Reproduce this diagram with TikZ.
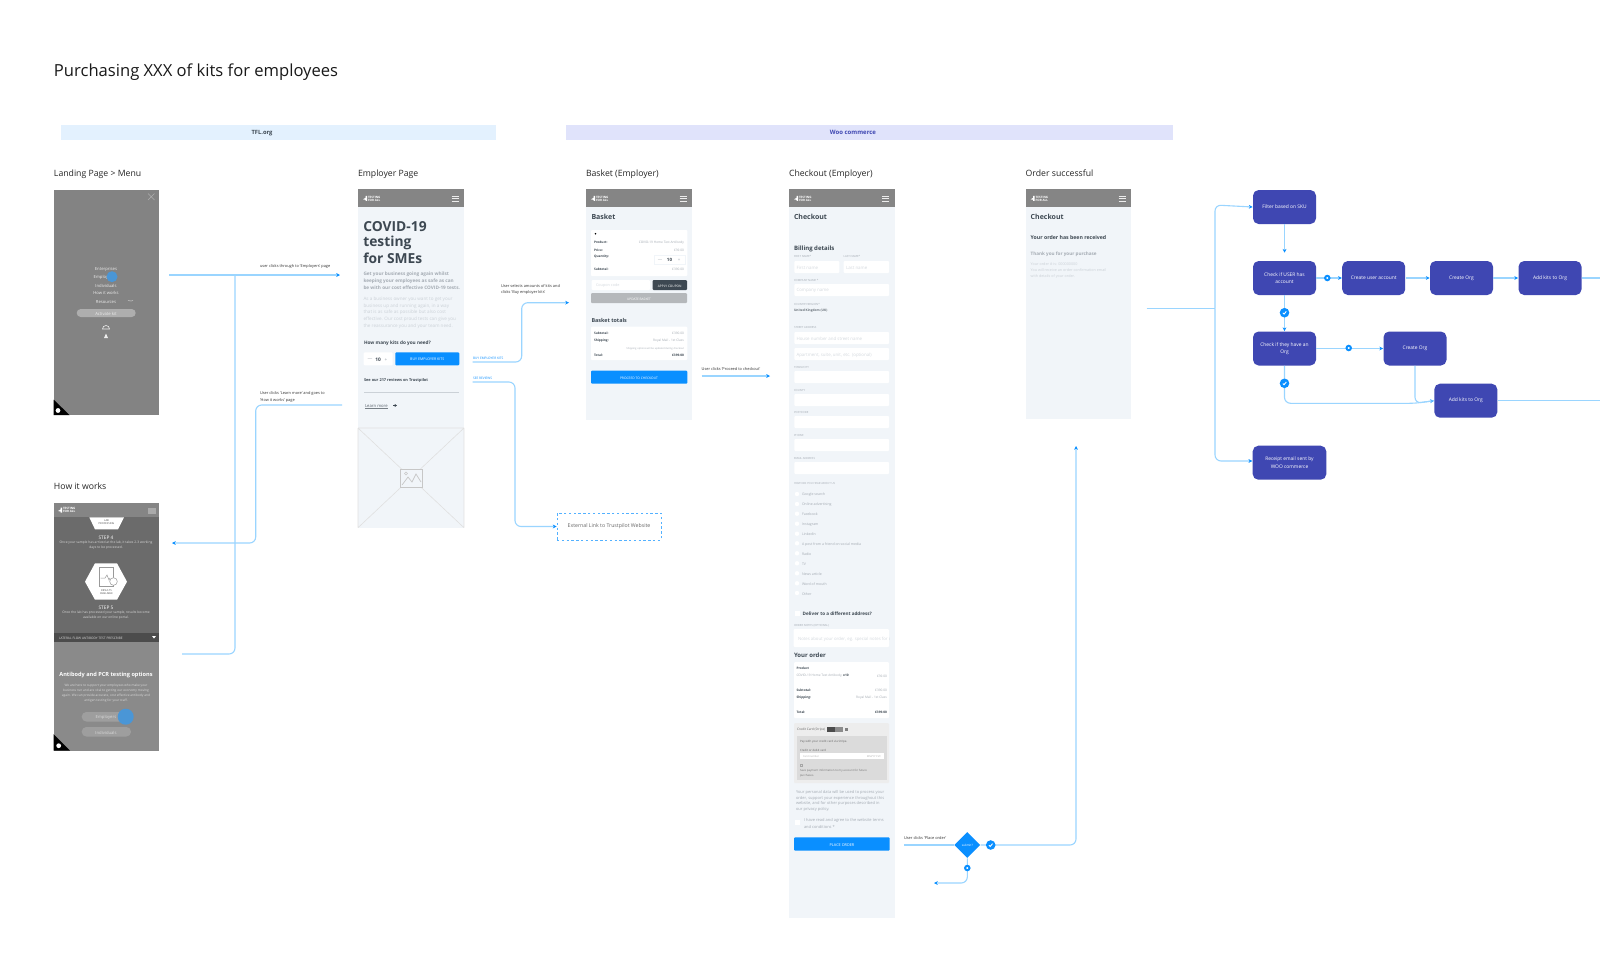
\documentclass[tikz,border=0pt]{standalone}
\usepackage{fontspec}
\setmainfont{Open Sans}
\usetikzlibrary{arrows.meta,shapes.geometric,calc}
\definecolor{lineblue}{HTML}{9AD5FF}
\definecolor{tipblue}{HTML}{0A8FFF}
\definecolor{bandA}{HTML}{E3F1FE}
\definecolor{bandB}{HTML}{E0E3FB}
\definecolor{flowfill}{HTML}{3F47B2}
\definecolor{wirebg}{HTML}{F1F5F9}
\definecolor{wirehead}{HTML}{858585}
\definecolor{inkdark}{HTML}{3D4852}
\definecolor{inkmid}{HTML}{A4ABB3}
\definecolor{inklight}{HTML}{CBD1D7}
\definecolor{fieldink}{HTML}{D5DADF}
\definecolor{landgray}{HTML}{838383}
\definecolor{touch}{HTML}{4A96D6}
\newcommand{\fsz}[1]{\fontsize{#1}{#1}\selectfont}
\newcommand{\oneline}[1]{\raisebox{-.8pt}{#1}}
\newcounter{tn}
\tikzset{
  txt/.style={inner sep=0pt,outer sep=0pt,anchor=west,yshift=-.45pt},
  tc/.style={anchor=center},
  tr/.style={anchor=east},
  sz/.style={font=\fsz{#1}},
  bsz/.style={font=\fsz{#1}\bfseries},
  conn/.style={draw=lineblue,line width=.55pt,rounded corners=3pt},
  arr/.style={-{Stealth[length=1.9pt,width=1.9pt,color=tipblue]}},
  flow/.style={draw=none,fill=flowfill,rounded corners=2.8pt,minimum width=31.5pt,minimum height=17pt,inner sep=1pt,text=white,font=\fontsize{2.45}{3.6}\selectfont,align=center},
  xmk/.style={circle,draw=tipblue,fill=white,line width=1pt,minimum size=2.2pt,inner sep=0pt},
  cmk/.style={circle,fill=tipblue,minimum size=4.8pt,inner sep=0pt},
  fld/.style={fill=white,rounded corners=.5pt},
}
\newcommand{\tx}[3][]{\stepcounter{tn}\node[txt,#1] (t\thetn) at (#2) {#3};}
\newcommand{\burger}[2]{\draw[white!85!wirehead,line width=.3pt] (#1-3.5,#2-2.5)--(#1+3.5,#2-2.5) (#1-3.5,#2)--(#1+3.5,#2) (#1-3.5,#2+2.5)--(#1+3.5,#2+2.5);}
\newcommand{\logomark}[2]{\fill[white] (#1,#2+1)--(#1+2.5,#2-.5)--(#1+2.5,#2-2.5)--(#1+4,#2-2.5)--(#1+4,#2+2.5)--(#1+2.5,#2+2.5)--(#1+2.5,#2+1.5)--cycle;
  \tx[bsz=1.5,text=white]{#1+5,#2-2.2}{TESTING}\tx[bsz=1.5,text=white]{#1+5,#2+.8}{FOR ALL}}
\newcommand{\phead}[3]{\fill[wirehead] (#1,#3) rectangle (#2,#3+18);\logomark{#1+5}{#3+9}\burger{#2-9}{#3+9}}
\newcommand{\chk}[3]{\node[cmk] (#1) at (#2,#3) {};\draw[white,line width=.45pt] (#2-1.7,#3+.2)--(#2-.5,#3+1.4)--(#2+1.8,#3-1.3);}
\begin{document}
\begin{tikzpicture}[x=.5pt,y=-.5pt]
\useasboundingbox (0,0) rectangle (1600,960);
\fill[white] (0,0) rectangle (1600,960);
% title and bands
\tx[sz=8.3,text=black!90]{54,71}{Purchasing XXX of kits for employees}
\fill[bandA] (61,124.5) rectangle (496,140);
\fill[bandB] (566,124.5) rectangle (1172.5,140);
\tx[tc,bsz=2.9,text=inkdark]{262,132}{TFL.org}
\tx[tc,bsz=3,text=flowfill]{853,131}{Woo commerce}
% screen labels
\tx[sz=4.35,text=black!85]{54,173}{Landing Page > Menu}
\tx[sz=4.35,text=black!85]{358,173}{Employer Page}
\tx[sz=4.35,text=black!85]{586,173}{Basket (Employer)}
\tx[sz=4.35,text=black!85]{789,173}{Checkout (Employer)}
\tx[sz=4.35,text=black!85]{1025.7,172}{Order successful}
\tx[sz=4.35,text=black!85]{54,485}{How it works}
% ---------- Landing
\fill[landgray] (53.5,189.5) rectangle (159,415);
\draw[white!35!landgray,line width=.3pt] (148,193.5)--(154.5,200) (154.5,193.5)--(148,200);
\tx[tc,sz=2.1,text=white!85!landgray]{106,268.5}{Enterprises}
\tx[tc,sz=2.1,text=white!85!landgray]{104,276.7}{Employers}
\tx[tc,sz=2.1,text=white!85!landgray]{106,285}{Individuals}
\tx[tc,sz=2.1,text=white!85!landgray]{106,292.5}{How it works}
\tx[tc,sz=2.1,text=white!85!landgray]{106,301}{Resources}
\draw[white!60!landgray,line width=.25pt] (128,300.5)--(131,301)--(133,300.5);
\fill[white!35!landgray,rounded corners=2pt] (76.7,309) rectangle (135.7,317);
\tx[tc,sz=2.1,text=white!85!landgray]{106,313}{Activate kit}
\fill[touch] (112,276.7) circle (5.5);
\draw[white!85!landgray,line width=.3pt] (102.5,329) arc (180:360:3.5)--cycle;
\fill[white!85!landgray] (106,333.5)--(108,338)--(104,338)--cycle;
\fill[black] (53.5,415)--(53.5,399.5)--(69.5,415)--cycle;
\fill[white] (58,410.5) circle (2.4);
% ---------- How it works
\fill[wirehead] (53.5,502.7) rectangle (159,517.3);
\fill[black!58] (53.5,517.3) rectangle (159,632.7);
\fill[black!70] (53.5,632.7) rectangle (159,641.7);
\fill[black!46] (53.5,641.7) rectangle (159,750.7);
\logomark{58}{510}
\fill[white!30!wirehead] (147.5,508) rectangle (156,514);
\fill[white] (89.3,517.3)--(124,517.3)--(118,529.3)--(95,529.3)--cycle;
\tx[tc,sz=1.3,text=black!70]{106.5,520}{LAB}
\tx[tc,sz=1.3,text=black!70]{106.5,523}{PROCESSING}
\tx[tc,sz=2.4,text=white]{106,537}{STEP 4}
\tx[tc,sz=1.65,text=white!85!black]{106,542}{Once your sample has arrived at the lab, it takes 2-3 working}
\tx[tc,sz=1.65,text=white!85!black]{106,547}{days to be processed.}
\fill[white] (85,581.7)--(95,563.3)--(117,563.3)--(127,581.7)--(117,599.7)--(95,599.7)--cycle;
\draw[black!40,line width=.25pt] (99.5,567.5) rectangle (113,586);
\draw[black!40,line width=.25pt] (100.5,578)--(105,578)--(107,575)--(109,580)--(110,578);
\draw[black!40,fill=white,line width=.25pt] (113.5,581.5) circle (3.8);
\tx[tc,sz=1.3,text=black!70]{106.5,590}{RESULTS}
\tx[tc,sz=1.3,text=black!70]{106.5,593}{AVAILABLE}
\tx[tc,sz=2.4,text=white]{106,607}{STEP 5}
\tx[tc,sz=1.65,text=white!85!black]{106,612}{Once the lab has processed your sample, results become}
\tx[tc,sz=1.65,text=white!85!black]{106,617}{available on our online portal.}
\tx[sz=1.6,text=white!85!black]{59,637}{LATERAL FLOW ANTIBODY TEST PRESCRIBE}
\fill[white] (152,636)--(156,636)--(154,638.5)--cycle;
\tx[tc,bsz=2.8,text=white]{106,674.3}{Antibody and PCR testing options}
\tx[tc,sz=1.6,text=white!85!black]{106,685}{We are here to support your employees who make your}
\tx[tc,sz=1.6,text=white!85!black]{106,690}{business run and are vital to getting our economy moving}
\tx[tc,sz=1.6,text=white!85!black]{106,695}{again. We can provide accurate, cost effective antibody and}
\tx[tc,sz=1.6,text=white!85!black]{106,700}{antigen testing for your staff.}
\fill[black!38,rounded corners=2.3pt] (81.7,712) rectangle (131,721.5);
\tx[tc,sz=2.1,text=white!85!black]{106,716.7}{Employers}
\fill[touch] (125.7,716.7) circle (8);
\fill[black!38,rounded corners=2.3pt] (81.7,727) rectangle (131,736.5);
\tx[tc,sz=2.1,text=white!85!black]{106,731.7}{Individuals}
\fill[black] (53.5,750.7)--(53.5,734)--(70,750.7)--cycle;
\fill[white] (58.7,745.7) circle (2.4);
% ---------- Employer
\fill[wirebg] (358,189.3) rectangle (464,527.7);
\phead{358}{464}{189.3}
\tx[bsz=6.9,text=inkdark]{363.3,225.7}{COVID-19}
\tx[bsz=6.9,text=inkdark]{363.3,241.7}{testing}
\tx[bsz=6.9,text=inkdark]{363.3,257.7}{for SMEs}
\tx[bsz=2.35,text=inkmid]{363.5,273.3}{Get your business going again whilst}
\tx[bsz=2.35,text=inkmid]{363.5,280}{keeping your employees as safe as can}
\tx[bsz=2.35,text=inkmid]{363.5,286.7}{be with our cost effective COVID-19 tests.}
\tx[sz=2.3,text=inklight]{363.5,298.7}{As a business owner you want to get your}
\tx[sz=2.3,text=inklight]{363.5,305}{business up and running again, in a way}
\tx[sz=2.3,text=inklight]{363.5,311.7}{that is as safe as possible but also cost}
\tx[sz=2.3,text=inklight]{363.5,318}{effective. Our cost proud tests can give you}
\tx[sz=2.3,text=inklight]{363.5,325}{the reassurance you and your team need.}
\tx[bsz=2.35,text=inkdark]{364,342.7}{How many kits do you need?}
\fill[fld] (363.7,352.3) rectangle (392.7,365.3);
\tx[tc,bsz=2.4,text=inkdark]{378.2,358.8}{10}
\tx[tc,sz=2.4,text=inkmid]{370,358.8}{—}
\tx[tc,sz=2.4,text=inkmid]{386,358.8}{+}
\fill[tipblue,rounded corners=.5pt] (395.3,352.3) rectangle (459.3,365.3);
\tx[tc,sz=1.8,text=white]{427.3,358.8}{BUY EMPLOYER KITS}
\tx[bsz=1.95,text=inkdark]{364,380}{See our 217 reviews on Trustpilot}
\draw[draw=inklight,line width=.2pt] (364,392.3)--(459,392.3);
\tx[sz=2.1,text=inkdark!85]{365,405.3}{Learn more}
\draw[draw=inkdark!70,line width=.12pt] (365,408.6)--(388,408.6);
\draw[draw=inkdark,line width=.25pt,-{Stealth[length=1.2pt,width=1.5pt]}] (393,405.5)--(397,405.5);
\draw[black!12,line width=.3pt] (358,428)--(464,428) (358,428)--(464,527.7) (464,428)--(358,527.7) (358,428)--(358,527.7) (464,428)--(464,527.7);
\fill[wirebg] (400,469) rectangle (422,487);
\draw[black!22,line width=.4pt] (400,469) rectangle (422,487);
\draw[black!22,line width=.35pt] (402,485)--(408,477)--(412,482)--(416,474)--(421,482);
\draw[black!22,line width=.3pt] (406,473.5) circle (1.5);
% ---------- Basket
\fill[wirebg] (586,189.3) rectangle (692,420);
\phead{586}{692}{189.3}
\tx[bsz=3.5,text=inkdark]{591.5,215.7}{Basket}
\fill[fld] (591,230) rectangle (687.3,276);
\fill[black] (595.5,233.7) circle (.9);
\tx[bsz=1.6,text=inkdark]{594,241.7}{Product:}
\tx[bsz=1.6,text=inkdark]{594,249}{Price:}
\tx[bsz=1.6,text=inkdark]{594,256}{Quantity:}
\tx[bsz=1.6,text=inkdark]{594,268.7}{Subtotal:}
\tx[tr,sz=1.6,text=inkmid]{684,241.7}{COVID-19 Home Test Antibody}
\tx[tr,sz=1.6,text=inkmid]{684,249}{£39.00}
\tx[tr,sz=1.6,text=inkmid]{684,268.7}{£390.00}
\draw[fill=white,draw=wirebg,line width=.3pt] (654,255) rectangle (685,264);
\tx[tc,bsz=2.2,text=inkdark]{669.5,259.5}{10}
\tx[tc,sz=2.2,text=inkmid]{660,259.5}{—}
\tx[tc,sz=2.2,text=inkmid]{679,259.5}{+}
\fill[fld] (591.7,280) rectangle (650,290);
\tx[sz=1.9,text=fieldink]{596,285}{Coupon code}
\fill[inkdark,rounded corners=.5pt] (652.7,280) rectangle (687,290);
\tx[tc,sz=1.6,text=white]{669.8,285}{APPLY COUPON}
\fill[black!25!wirebg,rounded corners=.5pt] (591,293) rectangle (687,303);
\tx[tc,sz=1.6,text=white]{639,298}{UPDATE BASKET}
\tx[bsz=2.7,text=inkdark]{591.5,319.2}{Basket totals}
\fill[fld] (591,326.7) rectangle (687.3,360);
\tx[bsz=1.6,text=inkdark]{594,332.7}{Subtotal:}
\tx[bsz=1.6,text=inkdark]{594,340}{Shipping:}
\tx[bsz=1.6,text=inkdark]{594,354.7}{Total:}
\tx[tr,sz=1.6,text=inkmid]{684,332.7}{£390.00}
\tx[tr,sz=1.6,text=inkmid]{684,340}{Royal Mail - 1st Class}
\tx[tr,sz=1.25,text=inkmid]{684,347.5}{Shipping options will be updated during checkout}
\tx[tr,bsz=1.6,text=inkdark]{684,354.7}{£399.00}
\fill[tipblue,rounded corners=.5pt] (591,370.7) rectangle (687.3,383.7);
\tx[tc,sz=1.65,text=white]{639,377.2}{PROCEED TO CHECKOUT}
% ---------- Checkout
\fill[wirebg] (789,189.3) rectangle (894.7,918.3);
\phead{789}{894.7}{189.3}
\tx[bsz=3.5,text=inkdark]{794,216.3}{Checkout}
\tx[bsz=3,text=inkdark]{794,247.7}{Billing details}
\tx[sz=1.4,text=inkmid]{794,256}{FIRST NAME*}
\tx[sz=1.4,text=inkmid]{843.7,256}{LAST NAME*}
\fill[fld] (794.3,261) rectangle (839.3,273);
\fill[fld] (843.7,261) rectangle (889,273);
\tx[sz=2.2,text=fieldink]{796.5,267}{First name}
\tx[sz=2.2,text=fieldink]{846,267}{Last name}
\tx[sz=1.4,text=inkmid]{794,279.7}{COMPANY NAME *}
\fill[fld] (794.3,284) rectangle (889,296);
\tx[sz=2.2,text=fieldink]{796.5,290}{Company name}
\tx[sz=1.4,text=inkmid]{794,303.3}{COUNTRY/REGION*}
\tx[bsz=1.6,text=inkdark!80]{794,310}{United Kingdom (UK)}
\tx[sz=1.4,text=inkmid]{794,326.7}{STREET ADDRESS}
\fill[fld] (794.3,332) rectangle (889,344);
\tx[sz=2.2,text=fieldink]{796.5,338}{House number and street name}
\fill[fld] (794.3,348) rectangle (889,360);
\tx[sz=2.2,text=fieldink]{796.5,354}{Apartment, suite, unit, etc. (optional)}
\tx[sz=1.4,text=inkmid]{794,366.7}{TOWN/CITY}
\fill[fld] (794.3,371) rectangle (889,383);
\tx[sz=1.4,text=inkmid]{794,389.7}{COUNTY}
\fill[fld] (794.3,394) rectangle (889,406);
\tx[sz=1.4,text=inkmid]{794,412}{POSTCODE}
\fill[fld] (794.3,416) rectangle (889,428);
\tx[sz=1.4,text=inkmid]{794,435}{PHONE}
\fill[fld] (794.3,439) rectangle (889,451);
\tx[sz=1.4,text=inkmid]{794,458}{EMAIL ADDRESS}
\fill[fld] (794.3,462) rectangle (889,474);
\tx[sz=1.4,text=inkmid]{794,482.7}{HOW DID YOU HEAR ABOUT US}
\fill[white] (797,494) circle (2.2);
\fill[white] (797,504) circle (2.2);
\fill[white] (797,513.7) circle (2.2);
\fill[white] (797,523.7) circle (2.2);
\fill[white] (797,533.7) circle (2.2);
\fill[white] (797,543.3) circle (2.2);
\fill[white] (797,553.3) circle (2.2);
\fill[white] (797,563.3) circle (2.2);
\fill[white] (797,573.3) circle (2.2);
\fill[white] (797,583.3) circle (2.2);
\fill[white] (797,593) circle (2.2);
\tx[sz=1.75,text=inkmid]{802,494}{Google search}
\tx[sz=1.75,text=inkmid]{802,504}{Online advertising}
\tx[sz=1.75,text=inkmid]{802,513.7}{Facebook}
\tx[sz=1.75,text=inkmid]{802,523.7}{Instagram}
\tx[sz=1.75,text=inkmid]{802,533.7}{LinkedIn}
\tx[sz=1.75,text=inkmid]{802,543.3}{A post from a friend on social media}
\tx[sz=1.75,text=inkmid]{802,553.3}{Radio}
\tx[sz=1.75,text=inkmid]{802,563.3}{TV}
\tx[sz=1.75,text=inkmid]{802,573.3}{News article}
\tx[sz=1.75,text=inkmid]{802,583.3}{Word of mouth}
\tx[sz=1.75,text=inkmid]{802,593}{Other}
\fill[white] (794.5,610.5) rectangle (799.5,616);
\tx[bsz=2.3,text=inkdark]{802.7,613.3}{Deliver to a different address?}
\tx[sz=1.4,text=inkmid]{794,625}{ORDER NOTES (OPTIONAL)}
\fill[fld] (793.7,629) rectangle (889,647);
\begin{scope}
\clip (793.7,629) rectangle (889,647);
\tx[sz=2.15,text=fieldink]{798,638}{Notes about your order, eg. special notes for delivery}
\end{scope}
\tx[bsz=3,text=inkdark]{794,654}{Your order}
\fill[fld] (794,662) rectangle (889,718);
\tx[bsz=1.6,text=inkdark]{796.5,667.7}{Product}
\tx[sz=1.6,text=inkmid]{796.5,675}{COVID-19 Home Test Antibody, {\bfseries\color{inkdark}x10}}
\tx[tr,sz=1.6,text=inkmid]{887,675}{£39.00}
\tx[bsz=1.6,text=inkdark]{796.5,689.3}{Subtotal:}
\tx[tr,sz=1.6,text=inkmid]{887,689.3}{£390.00}
\tx[bsz=1.6,text=inkdark]{796.5,697}{Shipping:}
\tx[tr,sz=1.6,text=inkmid]{887,697}{Royal Mail - 1st Class}
\tx[bsz=1.6,text=inkdark]{796.5,711}{Total:}
\tx[tr,bsz=1.6,text=inkdark]{887,711}{£399.00}
\fill[black!7,rounded corners=.5pt] (794,723) rectangle (889,783);
\tx[sz=1.6,text=black!60]{797,729}{Credit Card (Stripe)}
\fill[black!70] (827,726.5) rectangle (835,731.5);
\fill[black!45] (835,726.5) rectangle (843,731.5);
\fill[black!50] (845,727.5) rectangle (848,730.5);
\fill[black!14] (797,736) rectangle (887,780);
\tx[sz=1.45,text=black!60]{800,740.7}{Pay with your credit card via Stripe.}
\tx[sz=1.45,text=black!60]{800,749.7}{Credit or debit card}
\fill[white] (800,753) rectangle (884,759);
\tx[sz=1.3,text=black!30]{803,756}{Card number}
\tx[tr,sz=1.3,text=black!30]{881,756}{MM/YY CVC}
\draw[black!35,line width=.2pt] (800.5,764) rectangle (802.5,766.5);
\tx[sz=1.4,text=black!55]{800,770}{Save payment information to my account for future}
\tx[sz=1.4,text=black!55]{800,774.7}{purchases.}
\tx[sz=2,text=inkmid]{796,792}{Your personal data will be used to process your}
\tx[sz=2,text=inkmid]{796,797.7}{order, support your experience throughout this}
\tx[sz=2,text=inkmid]{796,803}{website, and for other purposes described in}
\tx[sz=2,text=inkmid]{796,809}{our privacy policy.}
\fill[white] (794.5,819.5) rectangle (799.5,825);
\tx[sz=2,text=inkmid]{804,820}{I have read and agree to the website terms}
\tx[sz=2,text=inkmid]{804,825.7}{and conditions *}
\fill[tipblue,rounded corners=.5pt] (794,837.3) rectangle (889.7,850.7);
\tx[tc,sz=1.9,text=white]{842,844}{PLACE ORDER}
% ---------- Order successful
\fill[wirebg] (1025.7,189.3) rectangle (1131,419.3);
\phead{1025.7}{1131}{189.3}
\tx[bsz=3.5,text=inkdark]{1030.7,216.3}{Checkout}
\tx[bsz=2.6,text=inkdark]{1030.7,237}{Your order has been received}
\tx[bsz=2.3,text=inkmid]{1030.7,253.7}{Thank you for your purchase}
\tx[sz=1.85,text=inklight]{1030.7,263}{Your order \# is: 000000000}
\tx[sz=1.85,text=inklight]{1030.7,269.3}{You will receive an order confirmation email}
\tx[sz=1.85,text=inklight]{1030.7,275.7}{with details of your order.}
% ---------- External link
\node[draw=tipblue!70,dash pattern=on 1.2pt off 1.2pt,line width=.45pt,inner sep=0pt,minimum width=52pt,minimum height=13.5pt,text=black!60,font=\fsz{2.6}] (ext) at (609,526.5) {External Link to Trustpilot Website\hspace{1.5pt}};
% ---------- Annotations
\tx[sz=1.95,text=black!80]{260,266}{user clicks through to 'Employers' page}
\tx[sz=1.95,text=black!80]{260,393}{User clicks 'Learn more' and goes to}
\tx[sz=1.95,text=black!80]{260,399.5}{'How it works' page}
\tx[sz=1.95,text=black!80]{501,285}{User selects amounts of kits and}
\tx[sz=1.95,text=black!80]{501,291.5}{clicks 'Buy employer kits'}
\tx[sz=1.95,text=black!80]{701.7,368}{User clicks 'Proceed to checkout'}
\tx[sz=1.95,text=black!80]{904,837.5}{User clicks 'Place order'}
\tx[sz=1.6,text=tipblue]{473,357}{BUY EMPLOYER KITS}
\tx[sz=1.6,text=tipblue]{473,377}{SEE REVIEWS}
% ---------- Connector ends
\coordinate (a1) at (169,275);
\coordinate (a2) at (340,275);
\coordinate (b1) at (182,654);
\coordinate (b2) at (235,654);
\coordinate (b3) at (235,275);
\coordinate (c1) at (342,405);
\coordinate (c2) at (255.7,405);
\coordinate (c3) at (255.7,543);
\coordinate (c4) at (172,543);
\coordinate (d1) at (472.7,362);
\coordinate (d2) at (521.7,362);
\coordinate (d3) at (521.7,302.7);
\coordinate (d4) at (569,302.7);
\coordinate (e1) at (472.7,382);
\coordinate (e2) at (515,382);
\coordinate (e3) at (515,526.5);
\coordinate (f1) at (701.7,376);
\coordinate (f2) at (770,376);
\coordinate (g1) at (904,845);
\coordinate (g2) at (1076,845);
\coordinate (g3) at (1076,446);
\coordinate (g4) at (967.3,883);
\coordinate (g5) at (934,883);
\coordinate (h1) at (1146.7,308.7);
\coordinate (h2) at (1215,308.7);
\coordinate (h3) at (1215,205);
\coordinate (h4) at (1215,461);
\coordinate (k1) at (1284.5,252.7);
\coordinate (k2) at (1600,278);
\coordinate (k3) at (1600,400.7);
\coordinate (k4) at (1284.5,403.3);
\coordinate (k5) at (1415,403.3);
% ---------- Flow nodes
\node[flow] (fl1) at (1284.5,207) {\oneline{Filter based on SKU}};
\node[flow] (cu) at (1284.5,278) {Check if USER has\\account};
\node[flow] (cua) at (1373.7,278) {\oneline{Create user account}};
\node[flow] (co1) at (1461.5,278) {\oneline{Create Org}};
\node[flow] (ak1) at (1550,278) {\oneline{Add kits to Org}};
\node[flow] (cor) at (1284.5,348.5) {Check if they have an\\Org};
\node[flow] (co2) at (1415,348.5) {\oneline{Create Org}};
\node[flow] (ak2) at (1465.8,400.7) {\oneline{Add kits to Org}};
\node[flow,minimum width=36.8pt] (re) at (1289.5,462.7) {Receipt email sent by\\WOO commerce};
\node[diamond,fill=tipblue,minimum width=13pt,minimum height=13pt,inner sep=0pt,text=white,font=\fsz{1.5}] (dec) at (967.3,845) {submit?};
% ---------- Connectors
\draw[conn,arr] (a1) -- (a2);
\draw[conn] (b1) -- (b2) -- (b3);
\draw[conn,arr] (c1) -- (c2) -- (c3) -- (c4);
\draw[conn,arr] (d1) -- (d2) -- (d3) -- (d4);
\draw[conn,arr] (e1) -- (e2) -- (e3) -- (ext.west);
\draw[conn,arr] (f1) -- (f2);
\draw[conn] (g1) -- (dec.west);
\draw[conn,arr] (dec.east) -- (g2) -- (g3);
\draw[conn,arr] (dec.south) -- (g4) -- (g5);
\draw[conn] (h1) -- (h2);
\draw[conn,arr] (h2) -- (h3) -- (fl1.west);
\draw[conn,arr] (h2) -- (h4) -- (h4 -| re.west);
\draw[conn,arr] (fl1.south) -- (k1);
\draw[conn,arr] (cu.east) -- (cua.west);
\draw[conn,arr] (cua.east) -- (co1.west);
\draw[conn,arr] (co1.east) -- (ak1.west);
\draw[conn] (ak1.east) -- (k2);
\draw[conn,arr] (cu.south) -- (cor.north);
\draw[conn,arr] (cor.east) -- (co2.west);
\draw[conn,arr] (cor.south) -- (k4) -- (k5) -- (ak2.west);
\draw[conn] (co2.south) -- (k5) -- (ak2.west);
\draw[conn] (ak2.east) -- (k3);
% ---------- Markers
\chk{m1}{990.7}{845}
\node[xmk] (m2) at (967.3,868) {};
\node[xmk] (m3) at (1327.3,278) {};
\chk{m4}{1284.5}{312.7}
\node[xmk] (m5) at (1348.7,348) {};
\chk{m6}{1284.5}{383.3}
\end{tikzpicture}
\end{document}
